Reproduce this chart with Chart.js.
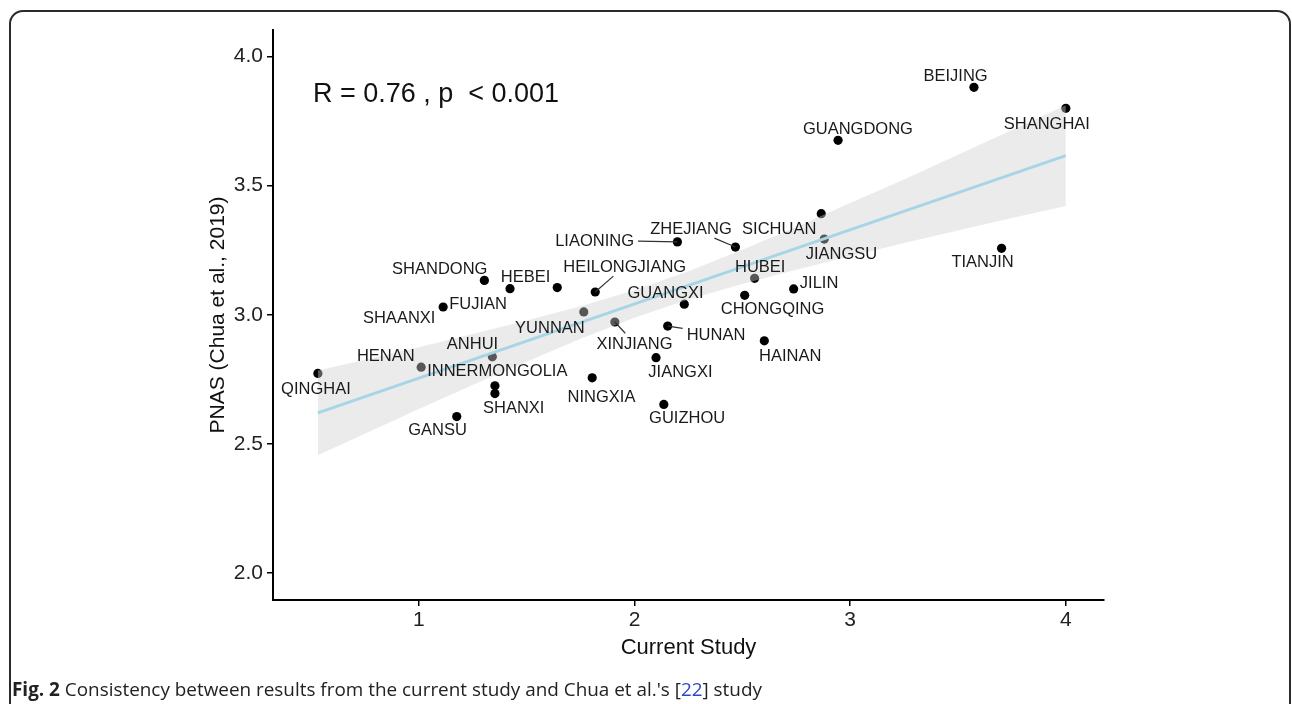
<!DOCTYPE html>
<html>
<head>
<meta charset="utf-8">
<script src="https://cdn.jsdelivr.net/npm/chart.js@4.4.1/dist/chart.umd.min.js"></script>
<style>
  html, body { margin: 0; padding: 0; background: #fff; }
  body { width: 1292px; height: 704px; position: relative; overflow: hidden; }
  .frame {
    position: absolute; left: 9px; top: 10px; width: 1282px; height: 760px;
    border: 2px solid #2b2b2b; border-radius: 14px; box-sizing: border-box;
  }
  #chart { position: absolute; left: 0; top: 0; }
  .caption {
    position: absolute; left: 12px; top: 676px; white-space: nowrap;
    font-family: 'Open Sans', sans-serif; font-size: 18.9px; color: #222;
  }
  .caption .ref { color: #2d46c8; }
</style>
</head>
<body>
<div class="frame"></div>
<canvas id="chart" width="1292" height="704"></canvas>
<div class="caption"><b>Fig. 2</b> Consistency between results from the current study and Chua et al.'s [<span class="ref">22</span>] study</div>
<script>
// provinces
const provinces = ['BEIJING', 'SHANGHAI', 'GUANGDONG', 'SICHUAN', 'JIANGSU', 'LIAONING', 'ZHEJIANG', 'TIANJIN',
  'HUBEI', 'JILIN', 'CHONGQING', 'GUANGXI', 'SHANDONG', 'HEBEI', 'FUJIAN', 'HEILONGJIANG', 'SHAANXI', 'YUNNAN',
  'XINJIANG', 'HUNAN', 'HAINAN', 'JIANGXI', 'ANHUI', 'HENAN', 'INNERMONGOLIA', 'SHANXI', 'QINGHAI', 'NINGXIA',
  'GUIZHOU', 'GANSU'];
const currentStudy = [3.574, 4.000, 2.944, 2.866, 2.880, 2.199, 2.468, 3.702,
  2.557, 2.738, 2.511, 2.231, 1.304, 1.423, 1.642, 1.818, 1.113, 1.765,
  1.909, 2.154, 2.602, 2.100, 1.341, 1.011, 1.353, 1.353, 0.532, 1.804,
  2.136, 1.176];
const pnas = [3.880, 3.799, 3.675, 3.391, 3.293, 3.282, 3.262, 3.257,
  3.141, 3.100, 3.075, 3.041, 3.133, 3.101, 3.105, 3.088, 3.030, 3.011,
  2.972, 2.956, 2.899, 2.834, 2.837, 2.797, 2.725, 2.695, 2.773, 2.756,
  2.653, 2.606];

// where the text labels sit (data units)
const labelX = [3.489, 3.912, 3.036, 2.671, 2.960, 1.815, 2.262, 3.614,
  2.583, 2.856, 2.640, 2.144, 1.097, 1.495, 1.275, 1.955, 0.909, 1.608,
  2.000, 2.378, 2.722, 2.213, 1.249, 0.847, 1.364, 1.440, 0.523, 1.847,
  2.244, 1.087];
const labelY = [3.926, 3.740, 3.723, 3.337, 3.239, 3.288, 3.335, 3.207,
  3.188, 3.126, 3.026, 3.087, 3.179, 3.150, 3.047, 3.188, 2.992, 2.953,
  2.890, 2.927, 2.843, 2.783, 2.889, 2.843, 2.785, 2.643, 2.715, 2.686,
  2.602, 2.556];
const leaders = ['LIAONING', 'ZHEJIANG', 'HEILONGJIANG', 'XINJIANG', 'HUNAN'];

// fitted line and its confidence ribbon
const fitX = [0.532, 4.0];
const fitY = [2.620, 3.616];
const bandX = [0.532, 0.75, 1.0, 1.25, 1.5, 1.75, 2.0, 2.25, 2.5, 2.75, 3.0, 3.25, 3.5, 3.75, 4.0];
const bandLower = [2.456, 2.539, 2.635, 2.728, 2.818, 2.907, 2.988, 3.059, 3.119, 3.174, 3.226, 3.278, 3.326, 3.374, 3.421];
const bandUpper = [2.784, 2.826, 2.874, 2.925, 2.978, 3.033, 3.095, 3.168, 3.252, 3.340, 3.432, 3.523, 3.619, 3.715, 3.811];

const xTicks = [1, 2, 3, 4];
const yTicks = [2.0, 2.5, 3.0, 3.5, 4.0];
const statText = 'R = 0.76 , p  < 0.001';
const statPos = [0.509, 3.861];

const FONT = "'Liberation Sans', Arial, Helvetica, sans-serif";

// labels, leader segments and the R/p text
const labelPlugin = {
    id: 'labels',
    afterDatasetsDraw(chart) {
        const { ctx, scales: { x, y } } = chart;
        ctx.save();

        ctx.fillStyle = '#111';
        ctx.font = `27px ${FONT}`;
        ctx.textAlign = 'left';
        ctx.textBaseline = 'alphabetic';
        ctx.fillText(statText, x.getPixelForValue(statPos[0]), y.getPixelForValue(statPos[1]) + 27 * 0.358);

        const size = 16.5;
        ctx.font = `${size}px ${FONT}`;
        ctx.textAlign = 'center';
        provinces.forEach((name, i) => {
            const cx = x.getPixelForValue(labelX[i]);
            const cy = y.getPixelForValue(labelY[i]);
            if (leaders.includes(name)) {
                const px = x.getPixelForValue(currentStudy[i]);
                const py = y.getPixelForValue(pnas[i]);
                const w = ctx.measureText(name).width / 2 + 4;
                const h = size * 0.36 + 4;
                const box = { l: cx - w, r: cx + w, t: cy - h, b: cy + h };
                // segment runs from the point towards the label centre, stopping at the box
                const dx = cx - px, dy = cy - py;
                let t = 0;
                if (px < box.l) t = Math.max(t, (box.l - px) / dx);
                if (px > box.r) t = Math.max(t, (box.r - px) / dx);
                if (py < box.t) t = Math.max(t, (box.t - py) / dy);
                if (py > box.b) t = Math.max(t, (box.b - py) / dy);
                ctx.strokeStyle = '#333';
                ctx.lineWidth = 1.2;
                ctx.beginPath();
                ctx.moveTo(px, py);
                ctx.lineTo(px + dx * t, py + dy * t);
                ctx.stroke();
            }
            ctx.fillStyle = '#1a1a1a';
            ctx.fillText(name, cx, cy + size * 0.358);
        });
        ctx.restore();
    }
};

const ctx = document.getElementById('chart').getContext('2d');

new Chart(ctx, {
    type: 'scatter',
    data: {
        datasets: [{
            type: 'line',
            data: fitX.map((v, i) => ({ x: v, y: fitY[i] })),
            borderColor: '#a8d5e6',
            borderWidth: 3,
            pointRadius: 0,
            fill: false,
            order: 0
        }, {
            type: 'line',
            data: bandX.map((v, i) => ({ x: v, y: bandUpper[i] })),
            borderColor: 'transparent',
            borderWidth: 0,
            pointRadius: 0,
            fill: '+1',
            backgroundColor: 'rgba(208,208,208,0.42)',
            order: 1
        }, {
            type: 'line',
            data: bandX.map((v, i) => ({ x: v, y: bandLower[i] })),
            borderColor: 'transparent',
            borderWidth: 0,
            pointRadius: 0,
            fill: false,
            order: 2
        }, {
            data: provinces.map((p, i) => ({ x: currentStudy[i], y: pnas[i] })),
            backgroundColor: '#000',
            borderWidth: 0,
            pointRadius: 4.6,
            order: 3
        }]
    },
    options: {
        responsive: false,
        animation: false,
        layout: { padding: { left: 200, top: 30, right: 188, bottom: 39 } },
        plugins: {
            legend: { display: false },
            tooltip: { enabled: false }
        },
        scales: {
            x: {
                type: 'linear',
                min: 0.324,
                max: 4.177,
                afterBuildTicks: s => { s.ticks = xTicks.map(v => ({ value: v })); },
                afterFit: s => { s.height = 65; },
                ticks: {
                    color: '#222',
                    padding: 2,
                    font: { family: FONT, size: 21 },
                    callback: v => String(v)
                },
                grid: { drawOnChartArea: false, drawTicks: true, tickLength: 6, color: '#000', lineWidth: 1.5 },
                border: { display: true, color: '#000', width: 2 },
                title: {
                    display: true,
                    text: 'Current Study',
                    color: '#111',
                    font: { family: FONT, size: 22 },
                    padding: { top: 2, bottom: 4 }
                }
            },
            y: {
                type: 'linear',
                min: 1.896,
                max: 4.102,
                afterBuildTicks: s => { s.ticks = yTicks.map(v => ({ value: v })); },
                afterFit: s => { s.width = 73; },
                ticks: {
                    color: '#222',
                    padding: 4,
                    font: { family: FONT, size: 21 },
                    callback: v => v.toFixed(1)
                },
                grid: { drawOnChartArea: false, drawTicks: true, tickLength: 6, color: '#000', lineWidth: 1.5 },
                border: { display: true, color: '#000', width: 2 },
                title: {
                    display: true,
                    text: 'PNAS (Chua et al., 2019)',
                    color: '#111',
                    font: { family: FONT, size: 21 },
                    padding: { top: 6, bottom: 0 }
                }
            }
        }
    },
    plugins: [labelPlugin]
});
</script>
</body>
</html>
